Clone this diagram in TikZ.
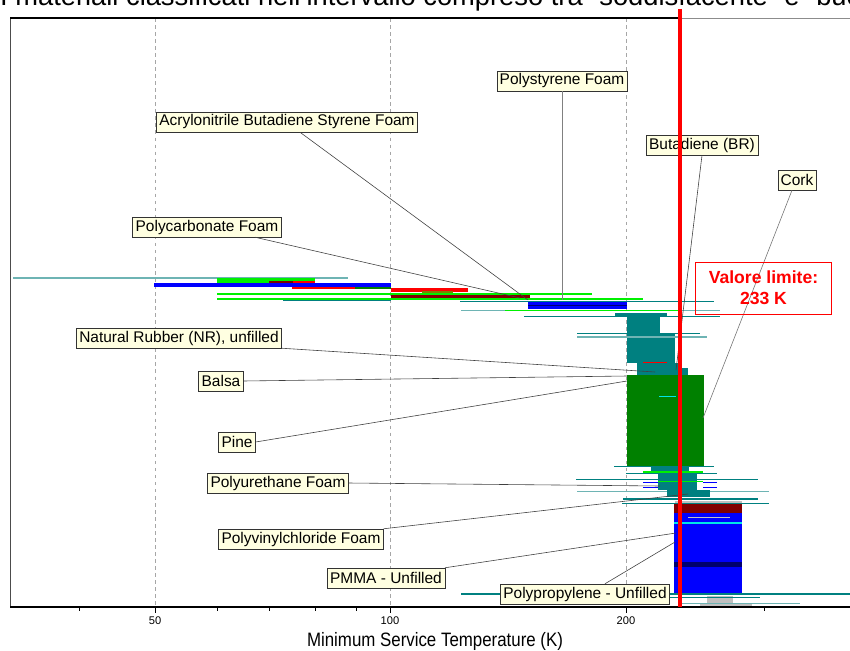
\documentclass[tikz,border=0pt]{standalone}
\usepackage{fontspec}
\setmainfont{Liberation Sans}
\usepackage{xcolor}
\usetikzlibrary{calc}
\definecolor{tealc}{RGB}{0,128,128}
\definecolor{ltealc}{RGB}{110,180,180}
\definecolor{limec}{RGB}{0,240,0}
\definecolor{greenc}{RGB}{0,128,0}
\definecolor{dredc}{RGB}{128,0,0}
\definecolor{olivec}{RGB}{128,128,0}
\definecolor{navyc}{RGB}{0,0,110}
\definecolor{cyanc}{RGB}{0,230,230}
\definecolor{greyc}{RGB}{192,192,192}
\definecolor{creamc}{RGB}{255,255,225}

\begin{document}
\begin{tikzpicture}[x=0.03cm, y=-0.03cm]
  \tikzset{tl/.style={fill=tealc}, lt/.style={fill=ltealc}, lg/.style={fill=limec},
    gr/.style={fill=greenc}, bl/.style={fill=blue}, rd/.style={fill=red},
    dr/.style={fill=dredc}, ol/.style={fill=olivec}, nv/.style={fill=navyc},
    cy/.style={fill=cyanc}, gy/.style={fill=greyc},
    lbl/.style={draw=black!80, fill=creamc, font=\fontsize{13.2}{15}\selectfont,
      inner xsep=2.5pt, inner ysep=0pt, minimum height=0.6cm},
    ldr/.style={draw=black!75, line width=0.5pt},
    grid/.style={draw=black!35, dashed, line width=0.5pt},
    tick/.style={font=\fontsize{9.5}{10}\selectfont}}
  \useasboundingbox (0,0) rectangle (850,650);
  % caption of the page above, cut by the top edge
  \node[anchor=base west, inner sep=0pt, font=\fontsize{23.3}{26}\selectfont] (cap) at (0,6)
    {I materiali classificati nell'intervallo compreso tra ``soddisfacente'' e ``buono''};
  % grid lines
  \foreach \t in {155,390,626} \draw[grid] (\t,18) -- (\t,607);
  % bars of the chart, left cluster
  \fill[lt] (13,277) rectangle (348,278.5);
  \fill[lg] (217,278) rectangle (315,283); \fill[dr] (269,281) rectangle (293,283);
  \fill[rd] (293,281) rectangle (315,283);
  \fill[bl] (154,283) rectangle (391,287);
  \fill[rd] (292,287) rectangle (355,289); \fill[gr] (355,287) rectangle (391,289);
  \fill[rd] (391,288) rectangle (468,292); \fill[ol] (422,291) rectangle (453,295);
  \fill[lg] (217,293) rectangle (592,294.5);
  \fill[dr] (391,295) rectangle (530,299);
  \fill[lg] (217,298) rectangle (643,299.5);
  \fill[tl] (283,300) rectangle (391,301); \fill[tl] (460,300.5) rectangle (714,302);
  \fill[bl] (528,302) rectangle (627,309); \fill[nv] (528,304.5) rectangle (627,305.5);
  \fill[lt] (461,309.5) rectangle (528,311); \fill[lg] (505,309.5) rectangle (680,311);
  \fill[lt] (680,309.5) rectangle (720,311);
  \fill[tl] (615,313) rectangle (667,316); \fill[tl] (524,315.5) rectangle (720,317);
  % teal mass and pine block
  \fill[tl] (627,316) rectangle (660,333); \fill[tl] (627,333) rectangle (675,363);
  \fill[tl] (637,363) rectangle (680,375); \fill[tl] (675,368) rectangle (688,375);
  \fill[tl] (577,332.5) rectangle (700,334); \fill[lt] (577,336) rectangle (707,337.5);
  \fill[rd] (643,361.5) rectangle (667,362.5);
  \fill[gr] (627,375) rectangle (704,466); \fill[cy] (659,396) rectangle (676,397);
  % foams below
  \fill[tl] (614,465.5) rectangle (714,467); \fill[tl] (651,466) rectangle (689,473);
  \fill[lg] (643,471) rectangle (703,473); \fill[tl] (626,472.5) rectangle (717,474);
  \fill[tl] (658,473) rectangle (697,490);
  \fill[tl] (576,478.5) rectangle (758,480); \fill[lg] (658,480.5) rectangle (703,482);
  \fill[bl] (643,481.5) rectangle (658,483); \fill[bl] (703,481.5) rectangle (717,483);
  \fill[bl] (643,486.5) rectangle (658,488); \fill[bl] (703,486.5) rectangle (717,488);
  \fill[lt] (577,490.5) rectangle (769,492); \fill[tl] (667,490) rectangle (710,497);
  \fill[tl] (623,497.5) rectangle (758,500); \fill[gy] (675,500.5) rectangle (742,504);
  \fill[tl] (622,502.5) rectangle (769,504);
  % PMMA stack
  \fill[dr] (674,504) rectangle (742,513); \fill[bl] (674,513) rectangle (742,593);
  \fill[gy] (688,516.5) rectangle (730,518); \fill[cy] (674,522) rectangle (742,523.5);
  \fill[nv] (674,562) rectangle (742,567);
  % polypropylene
  \fill[tl] (461,592.5) rectangle (850,594.5);
  \fill[gy] (707,596) rectangle (733,603); \fill[gy] (700,603) rectangle (752,607);
  \fill[tl] (670,596.5) rectangle (760,598); \fill[lt] (678,602.5) rectangle (800,604);
  \fill[tl] (665,605.5) rectangle (847,607);
  % frame and axis
  \draw[black!70, line width=0.6pt] (10,18) -- (10,607);
  \draw[line width=1.1pt] (10,18) -- (680,18);
  \draw[black!45, line width=0.6pt] (680,18) -- (850,18);
  \draw[line width=1.4pt] (10,607) -- (850,607);
  \foreach \t in {79,217,269,315,356,764} \draw[line width=0.4pt] (\t,607) -- (\t,611);
  \foreach \t/\v in {155/50,390/100,626/200} {
    \draw[line width=0.4pt] (\t,607) -- (\t,613);
    \node[tick] (t\v) at (\t,621) {\v};
  }
  \node[font=\fontsize{14.4}{16}\selectfont, yscale=1.15] (xlab) at (435,641) {Minimum Service Temperature (K)};
  % end points of the leaders
  \coordinate (psE) at (562,300);
  \coordinate (absE) at (528,300);
  \coordinate (brE) at (676,370);
  \coordinate (ckE) at (703,418);
  \coordinate (pcE) at (520,298);
  \coordinate (nrE) at (655,372);
  \coordinate (baE) at (627,376);
  \coordinate (piE) at (627,381);
  \coordinate (puE) at (660,486);
  \coordinate (pvE) at (688,494);
  \coordinate (pmE) at (676,533);
  \coordinate (ppE) at (675,542);
  % labels
  \node[lbl] (ps) at (562,81) {Polystyrene Foam};
  \node[lbl] (abs) at (287,122) {Acrylonitrile Butadiene Styrene Foam};
  \node[lbl] (br) at (702,145) {Butadiene (BR)};
  \node[lbl] (ck) at (797,180) {Cork};
  \node[lbl] (pc) at (207,227) {Polycarbonate Foam};
  \node[lbl] (nr) at (179,338) {Natural Rubber (NR), unfilled};
  \node[lbl] (ba) at (221,381) {Balsa};
  \node[lbl] (pi) at (237,442) {Pine};
  \node[lbl] (pu) at (278,483) {Polyurethane Foam};
  \node[lbl] (pv) at (301,539) {Polyvinylchloride Foam};
  \node[lbl] (pm) at (386,578) {PMMA - Unfilled};
  \node[lbl] (pp) at (585,594) {Polypropylene - Unfilled};
  \draw[ldr, draw=black!50] (ps.south) -- (psE);
  \draw[ldr] ($(abs.south)+(13,0)$) -- (absE);
  \draw[ldr] (br.south) -- (brE);
  \draw[ldr, draw=black!55] ($(ck.south)+(-5,0)$) -- (ckE);
  \draw[ldr] ($(pc.south)+(48,0)$) -- (pcE);
  \draw[ldr] (nr.south east) -- (nrE);
  \draw[ldr] (ba.east) -- (baE);
  \draw[ldr] (pi.east) -- (piE);
  \draw[ldr] (pu.east) -- (puE);
  \draw[ldr] (pv.north east) -- (pvE);
  \draw[ldr] (pm.north east) -- (pmE);
  \draw[ldr] ($(pp.north)+(20,0)$) -- (ppE);
  % limit value
  \draw[red, line width=2.6pt] (680,9) -- (680,607);
  \node[draw=red, line width=0.6pt, text=red, align=center, minimum width=4.1cm, minimum height=1.56cm,
    font=\bfseries\fontsize{15}{18}\selectfont] (lim) at (763.5,288) {Valore limite:\\233 K};
\end{tikzpicture}
\end{document}
